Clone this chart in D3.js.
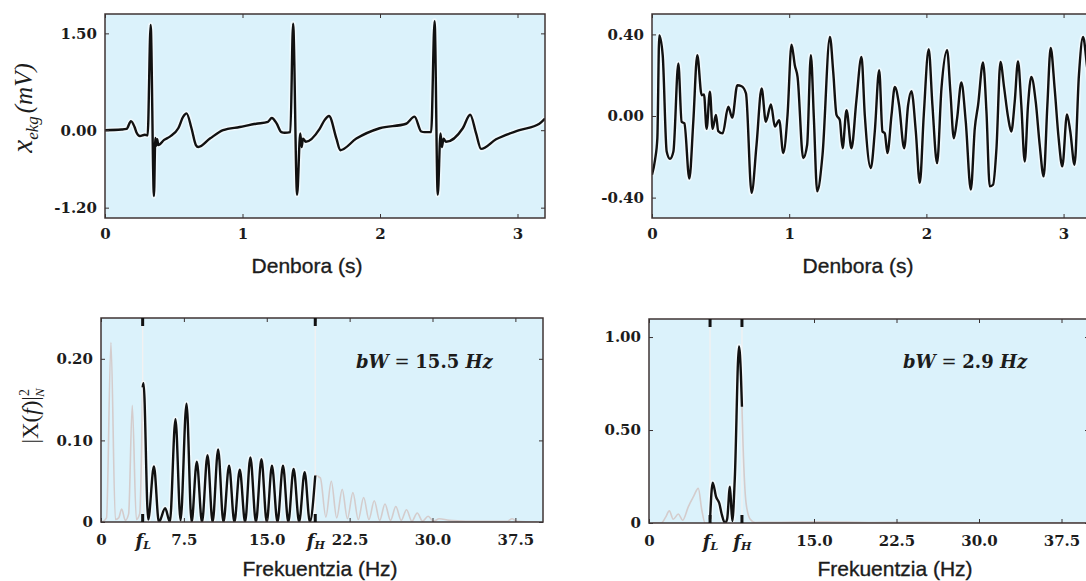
<!DOCTYPE html>
<html>
<head>
<meta charset="utf-8">
<script src="https://cdn.jsdelivr.net/npm/d3@7"></script>
<style>
  body {margin: 0; background: #fff;}
  svg text {fill: #1c1c1c;}
  .tick text {font-family: 'DejaVu Serif', serif; font-weight: bold; font-size: 15px;}
  .domain {display: none;}
  .tick line {stroke: #3a3232;}
  .title {font-family: 'Liberation Sans', Arial, sans-serif; font-size: 21px; text-anchor: middle; stroke: #1c1c1c; stroke-width: 0.35px;}
  .math {font-family: 'Liberation Serif', serif; font-style: italic;}
</style>
</head>
<body>
<svg id="chart" width="1086" height="581"></svg>
<script>
// ECG (top left), time in s, mV
var ecgTime = [0, 0.12, 0.157, 0.189, 0.215, 0.23, 0.254, 0.29, 0.31, 0.332, 0.356, 0.366, 0.373, 0.38, 0.387,
  0.43, 0.472, 0.533, 0.569, 0.593, 0.629, 0.661, 0.678, 0.763, 0.859, 0.98, 1.10, 1.185, 1.213, 1.247, 1.283,
  1.307, 1.348, 1.368, 1.397, 1.42, 1.43, 1.44, 1.46, 1.561, 1.598, 1.629, 1.683, 1.711, 1.828, 1.997, 2.19,
  2.251, 2.30, 2.324, 2.372, 2.397, 2.42, 2.44, 2.45, 2.462, 2.48, 2.602, 2.656, 2.699, 2.735, 2.844, 3.014,
  3.159, 3.2]
var ecgValue = [0, 0.01, 0.02, 0.14, 0.05, -0.04, -0.09, -0.07, -0.08, 1.63, -1.02, -0.12, -0.24, -0.14, -0.23,
  -0.15, -0.10, 0.03, 0.21, 0.26, 0.03, -0.23, -0.26, -0.13, 0.0, 0.05, 0.10, 0.13, 0.19, 0.11, -0.03,
  -0.04, -0.03, 1.65, -1.0, -0.05, -0.26, -0.13, -0.18, 0.02, 0.16, 0.22, -0.13, -0.31, -0.13, 0.03, 0.10,
  0.21, -0.02, -0.03, -0.03, 1.69, -1.0, -0.05, -0.26, -0.13, -0.18, 0.03, 0.24, -0.05, -0.29, -0.14, 0.0,
  0.10, 0.18]

// second signal (top right)
var sigTime = [0, 0.022, 0.039, 0.053, 0.078, 0.107, 0.131, 0.156, 0.192, 0.216, 0.236, 0.272, 0.301, 0.33,
  0.362, 0.379, 0.398, 0.422, 0.442, 0.466, 0.483, 0.515, 0.556, 0.585, 0.622, 0.653, 0.685, 0.726, 0.762,
  0.799, 0.83, 0.867, 0.896, 0.927, 0.957, 0.988, 1.017, 1.041, 1.061, 1.102, 1.131, 1.158, 1.18, 1.204,
  1.243, 1.297, 1.321, 1.345, 1.369, 1.389, 1.418, 1.454, 1.49, 1.527, 1.551, 1.595, 1.624, 1.656, 1.68,
  1.697, 1.716, 1.746, 1.77, 1.801, 1.838, 1.867, 1.891, 1.923, 1.952, 1.981, 2.017, 2.044, 2.078, 2.11,
  2.151, 2.175, 2.2, 2.224, 2.255, 2.287, 2.324, 2.353, 2.377, 2.413, 2.438, 2.462, 2.486, 2.511, 2.54,
  2.566, 2.595, 2.619, 2.644, 2.668, 2.692, 2.717, 2.741, 2.765, 2.797, 2.826, 2.855, 2.882, 2.906, 2.935,
  2.964, 2.991, 3.025, 3.049, 3.08, 3.112, 3.142, 3.17, 3.2]
var sigValue = [-0.288, -0.215, -0.109, 0.395, 0.298, -0.174, -0.21, -0.174, 0.257, -0.028, -0.036, -0.307,
  -0.028, 0.298, 0.102, 0.106, -0.063, 0.119, -0.063, 0.005, -0.074, -0.085, 0.045, -0.008, 0.151, 0.146,
  0.111, -0.377, -0.141, 0.135, -0.028, 0.057, -0.052, -0.02, -0.182, 0.005, 0.35, 0.249, 0.192, -0.206,
  -0.141, 0.298, -0.012, -0.369, -0.19, 0.387, 0.216, 0.005, -0.02, -0.158, 0.029, -0.158, 0.077, 0.289,
  0.005, -0.255, -0.076, 0.224, -0.076, -0.085, -0.182, 0.005, 0.143, 0.054, -0.158, 0.054, 0.122, -0.076,
  -0.328, 0.005, 0.327, 0.054, -0.231, 0.135, 0.322, 0.119, -0.109, -0.012, 0.164, -0.028, -0.361, -0.06,
  0.054, 0.262, 0.021, -0.345, -0.337, -0.158, 0.265, 0.143, -0.003, -0.076, 0.07, 0.268, 0.054, -0.223,
  0.054, 0.192, 0.07, -0.141, -0.296, 0.054, 0.333, 0.135, -0.109, -0.247, 0.008, -0.076, -0.239, 0.2,
  0.387, 0.25, 0.05]

// spectrum of the ECG (bottom left)
var ecgBand = {fL: 3.77, fH: 19.39, bW: '15.5'}
var ecgOutFreqLow = [0.1, 0.5, 0.9, 1.3, 1.6, 1.87, 2.2, 2.5, 2.83, 3.2, 3.5, 3.77]
var ecgOutPowLow = [0, 0.005, 0.22, 0.003, 0.005, 0.016, 0.002, 0.01, 0.143, 0.003, 0.01, 0.165]
var ecgInFreq = [3.77, 3.85, 4.27, 4.79, 5.24, 5.81, 6.23, 6.74, 7.2, 7.74, 8.2, 8.67, 9.14, 9.64, 10.1, 10.6,
  11.08, 11.59, 12.07, 12.56, 13.04, 13.52, 14.02, 14.52, 15.0, 15.47, 15.97, 16.47, 16.95, 17.43, 17.93,
  18.43, 18.9, 19.39]
var ecgInPow = [0.165, 0.17, 0.003, 0.068, 0.0, 0.017, 0.0, 0.126, 0.002, 0.145, 0.0, 0.074, 0.0, 0.082, 0.0,
  0.089, 0.0, 0.069, 0.0, 0.064, 0.0, 0.079, 0.0, 0.077, 0.0, 0.069, 0.0, 0.069, 0.0, 0.065, 0.0, 0.061, 0.0,
  0.057]
var ecgOutFreqHigh = [19.39, 19.85, 20.35, 20.84, 21.33, 21.83, 22.3, 22.8, 23.28, 23.77, 24.25, 24.73, 25.22,
  25.7, 26.2, 26.68, 27.17, 27.65, 28.13, 28.62, 29.1, 29.6, 30.1, 30.6, 31.5, 33, 35, 36.8, 37.2, 37.6, 39.5]
var ecgOutPowHigh = [0.057, 0.054, 0.006, 0.05, 0.005, 0.04, 0.004, 0.036, 0.003, 0.03, 0.003, 0.026, 0.002,
  0.022, 0.002, 0.019, 0.002, 0.015, 0.001, 0.011, 0.001, 0.007, 0.001, 0.004, 0.002, 0.001, 0.001, 0.001,
  0.004, 0.001, 0.0]

// spectrum of the second signal (bottom right)
var sigBand = {fL: 5.55, fH: 8.45, bW: '2.9'}
var sigOutFreqLow = [0.3, 1.1, 1.5, 1.85, 2.2, 2.67, 3.06, 3.58, 4.03, 4.48, 4.8, 5.1, 5.55]
var sigOutPowLow = [0, 0, 0.03, 0.065, 0.02, 0.048, 0.015, 0.088, 0.14, 0.186, 0.07, 0.0, 0.0]
var sigInFreq = [5.55, 5.79, 6.1, 6.39, 6.6, 6.9, 7.1, 7.36, 7.57, 7.8, 8.18, 8.36, 8.45]
var sigInPow = [0.02, 0.217, 0.14, 0.106, 0.05, 0.0, 0.02, 0.195, 0.01, 0.24, 0.95, 0.79, 0.625]
var sigOutFreqHigh = [8.45, 8.55, 8.82, 9.2, 9.65, 12, 16, 20, 25, 30, 35, 40]
var sigOutPowHigh = [0.625, 0.42, 0.11, 0.02, 0.003, 0.004, 0.006, 0.003, 0.004, 0.001, 0.001, 0.001]

var timeTicks = [0, 1, 2, 3]
var bg = '#dbf2fb'
var svg = d3.select('#chart')

function zipPts(xs, ys){ return xs.map((d, i) => [d, ys[i]]) }

function drawPanel(p){
  var x = d3.scaleLinear().domain(p.xDomain).range([p.left, p.right])
  var y = d3.scaleLinear().domain(p.yDomain).range([p.bottom, p.top])
  var g = svg.append('g')

  g.append('rect')
    .attr('x', p.left).attr('y', p.top)
    .attr('width', p.right - p.left).attr('height', p.bottom - p.top)
    .attr('fill', bg)

  svg.append('clipPath').attr('id', 'clip-' + p.id)
    .append('rect')
    .attr('x', p.left).attr('y', p.top)
    .attr('width', p.right - p.left).attr('height', p.bottom - p.top)

  var plot = g.append('g').attr('clip-path', `url(#clip-${p.id})`)

  if (p.band){
    plot.selectAll('line.band').data([p.band.fL, p.band.fH]).join('line')
      .attr('x1', d => x(d)).attr('x2', d => x(d))
      .attr('y1', p.top).attr('y2', p.bottom)
      .attr('stroke', '#f3f1f1').attr('stroke-width', 1.3)
  }

  var line = d3.line().x(d => x(d[0])).y(d => y(d[1])).curve(d3.curveMonotoneX)

  ;(p.light || []).forEach(pts => {
    plot.append('path').attr('d', line(pts))
      .attr('fill', 'none').attr('stroke', '#d4cccc').attr('stroke-width', 1.6)
  })
  ;(p.dark || []).forEach(pts => {
    plot.append('path').attr('d', line(pts))
      .attr('fill', 'none').attr('stroke', '#fff').attr('stroke-opacity', 0.55).attr('stroke-width', 5.5)
    plot.append('path').attr('d', line(pts))
      .attr('fill', 'none').attr('stroke', '#111').attr('stroke-width', 2.4)
      .attr('stroke-linejoin', 'round')
  })

  g.append('rect')
    .attr('x', p.left).attr('y', p.top)
    .attr('width', p.right - p.left).attr('height', p.bottom - p.top)
    .attr('fill', 'none').attr('stroke', '#3f3535').attr('stroke-width', 1.5)

  var xAxis = d3.axisBottom(x).tickValues(p.xTicks).tickFormat(p.xFormat).tickSize(-4).tickPadding(p.xPad)
  var xAxisG = g.append('g').attr('transform', `translate(0,${p.bottom})`).call(xAxis)
  g.append('g').attr('transform', `translate(0,${p.top})`)
    .call(d3.axisTop(x).tickValues(p.xTicks).tickFormat('').tickSize(-4))
  g.append('g').attr('transform', `translate(${p.left},0)`)
    .call(d3.axisLeft(y).tickValues(p.yTicks).tickFormat(p.yFormat).tickSize(-4).tickPadding(8))
  g.append('g').attr('transform', `translate(${p.right},0)`)
    .call(d3.axisRight(y).tickValues(p.yTicks).tickFormat('').tickSize(-4))

  if (p.band){
    var names = new Map([[p.band.fL, 'L'], [p.band.fH, 'H']])
    xAxisG.selectAll('.tick').filter(d => names.has(d)).each(function(d){
      var t = d3.select(this)
      t.select('line').remove()
      var txt = t.select('text').text('').attr('class', 'math').style('font-size', '18px')
      txt.append('tspan').text('f').style('font-weight', 'bold')
      txt.append('tspan').text(names.get(d)).style('font-size', '11px').attr('dy', 2)
    })
    // thick band markers on top and bottom edges
    ;[[p.top, 8], [p.bottom, -8]].forEach(([y0, len]) => {
      g.selectAll(null).data([p.band.fL, p.band.fH]).join('line')
        .attr('x1', d => x(d)).attr('x2', d => x(d))
        .attr('y1', y0).attr('y2', y0 + len)
        .attr('stroke', '#111').attr('stroke-width', 3)
    })
    var ann = g.append('text')
      .attr('x', p.annX).attr('y', p.annY)
      .style('font-family', "'DejaVu Serif', serif").style('font-size', '18px').style('font-weight', 'bold')
    ann.append('tspan').text('bW').style('font-style', 'italic')
    ann.append('tspan').text(' = ').style('font-weight', 'normal')
    ann.append('tspan').text(p.band.bW + ' ')
    ann.append('tspan').text('Hz').style('font-style', 'italic')
  }
  return {x, y}
}

var f2 = d => d3.format('.2f')(d).replace('\u2212', '-')
var f1 = d3.format('.1f')

drawPanel({
  id: 'ecg', left: 105, right: 545, top: 14, bottom: 218,
  xDomain: [0, 3.2], yDomain: [-1.36, 1.8],
  xTicks: timeTicks, xFormat: d3.format('d'), xPad: 10,
  yTicks: [-1.2, 0, 1.5], yFormat: f2,
  dark: [zipPts(ecgTime, ecgValue)]
})

drawPanel({
  id: 'sig', left: 652, right: 1091, top: 14, bottom: 218,
  xDomain: [0, 3.2], yDomain: [-0.5, 0.5],
  xTicks: timeTicks, xFormat: d3.format('d'), xPad: 10,
  yTicks: [-0.4, 0, 0.4], yFormat: f2,
  dark: [zipPts(sigTime, sigValue)]
})

drawPanel({
  id: 'ecgspec', left: 101, right: 543, top: 318, bottom: 522,
  xDomain: [0, 40], yDomain: [0, 0.25],
  xTicks: [0, ecgBand.fL, 7.5, 15, ecgBand.fH, 22.5, 30, 37.5], xFormat: d => d === 0 ? '0' : f1(d), xPad: 12,
  yTicks: [0, 0.1, 0.2], yFormat: d => d === 0 ? '0' : f2(d),
  band: ecgBand, annX: 356, annY: 368,
  light: [zipPts(ecgOutFreqLow, ecgOutPowLow), zipPts(ecgOutFreqHigh, ecgOutPowHigh)],
  dark: [zipPts(ecgInFreq, ecgInPow)]
})

drawPanel({
  id: 'sigspec', left: 649, right: 1089, top: 319, bottom: 523,
  xDomain: [0, 40], yDomain: [0, 1.097],
  xTicks: [0, sigBand.fL, sigBand.fH, 15, 22.5, 30, 37.5], xFormat: d => d === 0 ? '0' : f1(d), xPad: 12,
  yTicks: [0, 0.5, 1], yFormat: d => d === 0 ? '0' : f2(d),
  band: sigBand, annX: 903, annY: 368,
  light: [zipPts(sigOutFreqLow, sigOutPowLow), zipPts(sigOutFreqHigh, sigOutPowHigh)],
  dark: [zipPts(sigInFreq, sigInPow)]
})

// axis titles
svg.append('text').attr('class', 'title').attr('x', 307).attr('y', 273).text('Denbora (s)')
svg.append('text').attr('class', 'title').attr('x', 858).attr('y', 273).text('Denbora (s)')
svg.append('text').attr('class', 'title').attr('x', 320).attr('y', 576).text('Frekuentzia (Hz)')
svg.append('text').attr('class', 'title').attr('x', 895).attr('y', 576).text('Frekuentzia (Hz)')

var yt1 = svg.append('text').attr('class', 'math')
  .attr('transform', 'translate(32,108) rotate(-90)').attr('text-anchor', 'middle')
yt1.append('tspan').text('x').style('font-size', '29px')
yt1.append('tspan').text('ekg').style('font-size', '17px').attr('dy', 6)
yt1.append('tspan').text('(mV)').style('font-size', '25px').attr('dy', -6).attr('dx', 3)

var yt2 = svg.append('text').attr('class', 'math')
  .attr('transform', 'translate(38,416) rotate(-90)').attr('text-anchor', 'middle')
yt2.append('tspan').text('|X(').style('font-size', '23px').style('font-style', 'normal')
yt2.append('tspan').text('f').style('font-size', '23px')
yt2.append('tspan').text(')|').style('font-size', '23px').style('font-style', 'normal')
yt2.append('tspan').text('2').style('font-size', '14px').style('font-style', 'normal').attr('dy', -9)
yt2.append('tspan').text('N').style('font-size', '13px').attr('dy', 15).attr('dx', -8)
</script>
</body>
</html>
